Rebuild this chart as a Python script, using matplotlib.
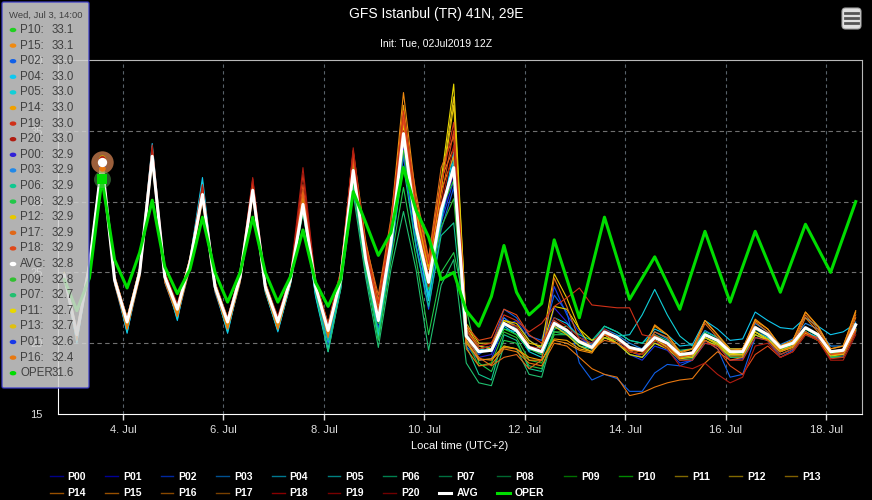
import datetime as dt
import numpy as np
import matplotlib
matplotlib.use('Agg')
import matplotlib.pyplot as plt
from matplotlib.lines import Line2D
from matplotlib.patches import FancyBboxPatch, Circle

plt.rcParams['font.family'] = ['Liberation Sans', 'DejaVu Sans']

# 6-hourly steps in local time (UTC+2), first step Wed Jul 2 20:00
t0 = dt.datetime(2019, 7, 2, 20)
times = [t0 + dt.timedelta(hours=6 * i) for i in range(64)]
hover_idx = 3  # Jul 3, 14:00

# ensemble members (deg C), one row per day (20, 02, 08, 14 h)
P00 = [24.6, 20.3, 25.3, 32.9, 24.3, 21.2, 24.8, 33.3, 24.5, 22.1, 25.5, 30.6, 23.8, 21.2, 24.5, 30.9,
       23.8, 21.2, 24.3, 29.9, 23.7, 20.5, 24.2, 31.8, 25.3, 21.0, 26.5, 34.0, 27.5, 23.5, 28.8, 32.0,
       20.0, 19.0, 19.2, 21.8, 21.2, 19.8, 19.2, 22.5, 21.5, 20.4, 19.8, 20.6, 20.2, 19.5, 19.0, 20.0,
       19.8, 19.0, 19.1, 20.4, 20.0, 19.1, 19.2, 21.0, 20.4, 19.4, 19.8, 21.0, 20.5, 19.2, 19.3, 21.1]
P01 = [24.9, 20.4, 25.4, 32.6, 24.3, 21.1, 24.8, 32.9, 24.4, 22.0, 25.5, 30.2, 23.8, 21.1, 24.5, 30.5,
       23.8, 21.0, 24.3, 29.5, 23.8, 20.4, 24.1, 31.6, 25.0, 20.8, 26.3, 33.5, 27.0, 23.0, 28.5, 31.5,
       19.8, 18.8, 18.9, 21.2, 21.6, 20.2, 19.6, 24.0, 22.0, 20.8, 19.5, 20.4, 20.0, 19.2, 18.8, 19.8,
       19.5, 18.6, 18.8, 20.0, 19.8, 18.8, 18.9, 20.6, 20.2, 19.2, 19.6, 20.8, 20.3, 19.0, 19.1, 20.8]
P02 = [24.7, 20.2, 25.6, 33.0, 24.4, 21.0, 25.0, 33.5, 24.6, 21.9, 25.8, 30.8, 23.9, 21.0, 24.8, 31.0,
       23.9, 21.0, 24.4, 30.0, 23.6, 20.2, 24.0, 31.2, 24.8, 20.6, 26.0, 33.2, 26.8, 22.4, 28.0, 31.0,
       20.2, 19.2, 19.8, 22.4, 21.8, 20.5, 20.2, 23.4, 22.2, 18.6, 17.4, 17.8, 17.5, 16.6, 16.6, 17.9,
       18.5, 18.4, 18.8, 20.2, 19.6, 17.6, 17.8, 20.4, 20.2, 19.0, 19.5, 20.8, 20.4, 19.1, 19.3, 21.0]
P03 = [24.8, 20.1, 25.2, 32.9, 24.2, 20.8, 24.7, 33.4, 24.3, 21.8, 25.3, 30.8, 23.6, 20.9, 24.3, 30.8,
       23.7, 20.9, 24.2, 29.6, 23.5, 20.0, 23.8, 32.3, 25.6, 20.4, 26.8, 34.5, 27.8, 23.2, 29.0, 32.8,
       20.4, 19.6, 19.8, 21.8, 21.0, 19.6, 19.2, 21.6, 20.8, 20.2, 19.9, 21.0, 20.6, 20.0, 19.6, 20.8,
       20.3, 19.4, 19.6, 20.9, 20.4, 19.6, 19.6, 21.4, 20.8, 19.9, 20.3, 21.4, 21.0, 19.8, 19.8, 21.5]
P04 = [24.9, 20.0, 25.6, 33.0, 24.6, 20.7, 25.1, 34.1, 24.8, 21.6, 25.9, 31.7, 23.9, 20.7, 24.6, 31.3,
       23.7, 20.8, 24.2, 29.7, 23.3, 19.4, 23.9, 32.5, 25.4, 20.3, 26.9, 35.2, 28.0, 23.0, 28.9, 33.5,
       20.8, 19.8, 19.6, 21.2, 20.6, 19.5, 19.8, 21.8, 21.4, 20.4, 20.0, 21.2, 20.8, 20.2, 20.0, 21.0,
       20.6, 19.8, 19.9, 21.6, 21.0, 20.2, 20.3, 22.2, 21.6, 21.1, 21.0, 21.8, 21.2, 20.6, 20.8, 21.4]
P05 = [24.7, 20.1, 25.5, 33.0, 24.5, 20.8, 25.0, 33.9, 24.7, 21.7, 25.8, 31.4, 23.8, 20.8, 24.5, 31.2,
       23.6, 20.9, 24.1, 29.5, 23.4, 19.6, 24.0, 32.0, 25.2, 20.5, 26.6, 34.6, 27.6, 23.4, 28.6, 33.0,
       20.6, 19.6, 19.4, 21.0, 20.8, 19.4, 19.0, 21.2, 20.7, 19.8, 19.6, 20.6, 20.5, 20.6, 22.0, 23.8,
       22.0, 20.5, 19.8, 20.4, 20.0, 19.2, 19.2, 20.8, 20.4, 19.6, 19.8, 20.8, 20.4, 19.3, 19.4, 20.9]
P06 = [24.9, 20.7, 25.8, 32.9, 24.8, 21.6, 25.3, 33.0, 24.9, 22.5, 25.9, 30.3, 24.2, 21.4, 24.9, 30.7,
       24.2, 21.3, 24.6, 29.3, 24.0, 20.2, 24.4, 31.2, 25.4, 20.8, 26.5, 32.5, 26.8, 22.6, 27.6, 28.5,
       19.8, 17.8, 17.4, 20.6, 20.2, 18.2, 18.0, 21.0, 21.2, 20.6, 20.2, 21.2, 20.8, 20.2, 20.0, 20.6,
       20.2, 19.5, 19.6, 20.8, 20.4, 19.6, 19.6, 21.2, 20.6, 19.8, 20.1, 21.0, 20.6, 19.4, 19.4, 21.0]
P07 = [24.8, 20.6, 25.6, 32.7, 24.6, 21.4, 24.9, 32.8, 24.7, 22.3, 25.6, 30.2, 24.0, 21.2, 24.6, 30.5,
       23.9, 21.2, 24.3, 29.2, 23.6, 19.4, 23.8, 30.6, 24.6, 19.7, 25.2, 29.3, 25.2, 19.5, 24.1, 25.9,
       18.6, 17.2, 17.0, 19.8, 19.6, 17.8, 17.6, 20.8, 20.6, 19.8, 19.4, 20.4, 20.0, 19.2, 19.0, 20.0,
       19.6, 18.8, 18.9, 20.2, 19.8, 19.0, 19.0, 20.6, 20.2, 19.2, 19.6, 20.6, 20.2, 19.0, 19.0, 20.8]
P08 = [24.8, 20.8, 25.5, 32.9, 24.5, 21.7, 25.0, 33.1, 24.6, 22.6, 25.6, 30.4, 24.0, 21.7, 24.7, 30.7,
       24.0, 21.7, 24.4, 29.6, 23.9, 20.6, 24.2, 31.4, 25.2, 20.2, 25.8, 31.0, 26.0, 20.6, 25.0, 26.4,
       22.4, 18.6, 18.0, 20.2, 20.0, 18.4, 18.2, 20.6, 20.6, 20.0, 19.6, 20.4, 20.2, 19.6, 19.4, 20.2,
       19.8, 19.0, 19.0, 20.4, 19.9, 19.2, 19.2, 20.8, 20.2, 19.4, 19.8, 20.8, 20.2, 19.1, 19.0, 21.0]
P09 = [24.9, 20.6, 25.7, 32.8, 24.6, 21.5, 25.2, 33.0, 24.8, 22.4, 25.9, 30.3, 24.1, 21.5, 24.9, 30.6,
       24.1, 21.5, 24.7, 29.6, 24.2, 21.0, 24.6, 32.0, 26.0, 21.4, 27.2, 33.6, 27.8, 23.8, 28.2, 30.2,
       20.2, 18.4, 18.6, 20.8, 20.4, 18.8, 18.6, 20.8, 20.8, 20.0, 19.7, 20.8, 20.4, 19.7, 19.5, 20.6,
       20.0, 19.2, 19.3, 20.7, 20.2, 19.4, 19.4, 21.0, 20.6, 19.7, 20.0, 21.0, 20.6, 19.4, 19.5, 21.2]
P10 = [24.9, 20.7, 25.6, 33.1, 24.6, 21.6, 25.1, 33.5, 24.8, 22.5, 25.8, 30.8, 24.1, 21.6, 24.8, 31.1,
       24.1, 21.6, 24.6, 30.1, 24.1, 21.0, 24.6, 32.4, 26.1, 21.8, 27.4, 34.5, 28.4, 24.5, 29.5, 31.5,
       20.6, 19.4, 19.5, 21.0, 20.6, 19.6, 19.2, 21.4, 21.0, 20.0, 19.6, 20.8, 20.3, 19.6, 19.4, 20.4,
       20.0, 19.1, 19.2, 20.6, 20.1, 19.3, 19.3, 21.0, 20.5, 19.6, 19.9, 21.0, 20.5, 19.3, 19.4, 21.2]
P11 = [25.0, 20.9, 25.8, 32.7, 24.8, 21.8, 25.3, 33.0, 25.0, 22.6, 26.0, 30.3, 24.3, 21.7, 25.0, 30.6,
       24.3, 21.7, 24.8, 29.5, 24.4, 21.3, 24.9, 32.0, 26.6, 22.6, 28.0, 35.2, 29.4, 25.6, 31.5, 38.3,
       21.2, 19.8, 19.6, 21.6, 21.4, 20.2, 19.6, 22.6, 22.4, 21.0, 20.2, 20.6, 20.0, 19.4, 19.2, 20.2,
       19.8, 19.0, 19.2, 20.4, 20.0, 19.3, 19.2, 20.8, 20.3, 19.5, 19.8, 20.8, 20.2, 19.2, 19.3, 21.0]
P12 = [24.8, 20.9, 25.5, 32.9, 24.6, 21.8, 25.0, 33.2, 24.7, 22.7, 25.7, 30.5, 24.0, 21.8, 24.7, 30.8,
       24.0, 21.8, 24.5, 29.8, 24.1, 21.2, 24.6, 32.2, 26.2, 22.2, 27.6, 35.6, 29.0, 25.2, 30.8, 36.8,
       21.0, 19.6, 19.8, 21.6, 21.2, 20.0, 19.8, 24.9, 23.2, 21.0, 19.6, 20.4, 20.0, 19.2, 19.0, 20.0,
       19.6, 18.9, 19.0, 20.2, 19.8, 19.1, 19.1, 20.6, 20.2, 19.4, 19.7, 20.7, 20.2, 19.1, 19.2, 20.9]
P13 = [25.0, 20.6, 25.7, 32.7, 24.7, 21.5, 25.2, 32.9, 24.9, 22.4, 25.9, 30.2, 24.2, 21.5, 24.9, 30.5,
       24.2, 21.5, 24.7, 29.5, 24.2, 21.2, 24.8, 31.8, 26.4, 22.8, 27.8, 34.2, 29.2, 25.4, 31.0, 37.4,
       21.4, 20.0, 20.0, 21.4, 21.0, 19.8, 19.4, 21.2, 20.6, 19.8, 19.4, 20.4, 20.0, 19.4, 19.2, 20.2,
       19.7, 19.0, 19.1, 20.4, 19.9, 19.2, 19.2, 20.8, 20.2, 19.4, 19.8, 20.8, 20.2, 19.2, 19.2, 21.0]
P14 = [24.8, 20.4, 25.5, 33.0, 24.6, 21.2, 25.0, 33.4, 24.7, 22.1, 25.7, 30.7, 24.0, 21.2, 24.7, 31.0,
       24.0, 21.2, 24.5, 30.4, 24.2, 20.8, 24.8, 33.2, 26.8, 22.6, 28.2, 36.8, 29.6, 25.2, 30.8, 33.2,
       20.2, 18.8, 18.9, 19.8, 19.6, 19.0, 18.8, 20.3, 20.2, 19.6, 19.4, 20.8, 20.4, 19.6, 19.4, 21.2,
       20.6, 19.4, 19.6, 21.6, 20.6, 19.6, 19.6, 21.6, 21.0, 19.8, 20.2, 22.2, 21.2, 19.6, 19.8, 22.2]
P15 = [24.9, 20.2, 25.6, 33.1, 24.6, 21.0, 25.1, 33.7, 24.8, 21.9, 25.8, 31.0, 24.0, 21.0, 24.8, 31.3,
       24.0, 21.0, 24.6, 30.8, 24.3, 20.6, 25.0, 33.6, 27.2, 23.0, 28.6, 37.7, 30.2, 25.8, 31.6, 33.8,
       20.0, 18.9, 18.8, 19.7, 19.6, 18.8, 18.8, 20.2, 20.0, 19.5, 19.3, 20.6, 20.4, 19.5, 19.4, 21.3,
       20.6, 19.3, 19.6, 21.6, 20.6, 19.5, 19.6, 21.7, 21.0, 19.8, 20.2, 22.2, 21.2, 19.6, 19.8, 22.3]
P16 = [24.6, 20.3, 25.3, 32.4, 24.2, 21.0, 24.6, 32.7, 24.3, 21.9, 25.3, 30.0, 23.7, 21.0, 24.3, 30.3,
       23.7, 21.0, 24.2, 30.0, 23.9, 20.4, 24.4, 32.8, 26.4, 22.0, 27.6, 36.2, 28.8, 24.2, 29.8, 32.0,
       19.6, 18.4, 18.5, 19.6, 19.4, 18.6, 18.4, 20.0, 19.8, 19.0, 18.2, 17.8, 17.6, 16.3, 16.5, 16.9,
       17.2, 17.4, 17.5, 18.6, 19.4, 18.8, 19.0, 21.2, 20.6, 19.4, 19.8, 21.8, 20.8, 19.2, 19.4, 21.8]
P17 = [24.8, 20.9, 25.7, 32.9, 24.7, 21.8, 25.3, 33.2, 24.9, 22.7, 26.0, 30.5, 24.3, 21.8, 25.0, 30.8,
       24.3, 21.8, 24.8, 30.6, 24.4, 21.4, 25.1, 33.0, 27.0, 23.4, 28.8, 36.0, 30.6, 26.0, 32.4, 34.6,
       20.4, 19.0, 18.4, 19.0, 19.2, 18.2, 18.8, 24.6, 22.6, 20.2, 19.6, 20.2, 20.0, 19.4, 19.2, 20.8,
       20.4, 19.2, 19.4, 21.4, 20.4, 19.4, 19.5, 21.5, 20.8, 19.6, 20.0, 22.0, 21.0, 19.4, 19.6, 22.0]
P18 = [24.8, 20.8, 25.6, 32.9, 24.6, 21.7, 25.1, 33.6, 24.8, 22.6, 25.8, 30.9, 24.1, 21.7, 24.8, 31.3,
       24.1, 21.7, 24.6, 31.2, 24.3, 21.2, 24.9, 33.2, 26.6, 22.4, 28.0, 35.8, 29.0, 24.8, 30.2, 35.0,
       21.2, 20.2, 20.4, 22.4, 22.0, 20.6, 20.0, 21.6, 21.0, 20.2, 19.8, 20.6, 20.2, 19.6, 19.4, 20.6,
       20.0, 19.0, 19.2, 20.2, 19.6, 18.4, 17.8, 19.2, 19.8, 19.0, 19.4, 20.6, 20.4, 19.2, 19.3, 21.0]
P19 = [24.7, 20.7, 25.5, 33.0, 24.6, 21.6, 25.1, 33.8, 24.8, 22.5, 25.8, 31.1, 24.0, 21.6, 24.8, 31.6,
       24.0, 21.6, 24.6, 31.9, 24.3, 21.2, 25.0, 33.5, 26.8, 22.8, 28.4, 36.4, 29.8, 25.6, 31.2, 35.6,
       21.0, 19.8, 20.0, 22.0, 21.6, 20.8, 21.4, 22.6, 23.2, 23.9, 22.7, 22.6, 22.5, 22.5, 20.6, 20.4,
       19.8, 18.8, 18.8, 20.0, 19.8, 18.8, 18.8, 20.4, 20.2, 19.2, 19.6, 20.8, 20.2, 18.9, 19.0, 20.8]
P20 = [24.8, 21.0, 25.6, 33.0, 24.8, 21.8, 25.2, 34.0, 25.0, 22.8, 25.9, 31.2, 24.2, 21.8, 24.9, 31.7,
       24.2, 21.9, 24.8, 32.4, 24.4, 21.3, 25.0, 33.8, 26.4, 22.0, 27.8, 35.0, 28.6, 24.0, 29.6, 34.0,
       20.8, 19.6, 19.8, 21.4, 21.2, 19.8, 19.6, 21.8, 21.2, 20.4, 20.0, 21.0, 20.4, 19.4, 19.2, 20.2,
       19.6, 18.4, 18.2, 18.6, 17.8, 17.2, 17.6, 19.8, 20.0, 19.0, 19.4, 20.6, 20.2, 18.8, 18.8, 20.6]

AVG = [24.8, 20.6, 25.5, 32.8, 24.5, 21.5, 25.0, 33.2, 24.7, 22.4, 25.7, 30.5, 24.0, 21.5, 24.7, 30.8,
       24.0, 21.5, 24.5, 29.8, 24.0, 20.9, 24.5, 32.2, 25.9, 21.6, 27.1, 34.8, 28.2, 24.3, 29.4, 32.4,
       20.5, 19.4, 19.5, 21.4, 20.9, 19.7, 19.4, 21.4, 20.9, 20.1, 19.7, 20.8, 20.4, 19.7, 19.5, 20.4,
       20.0, 19.2, 19.3, 20.6, 20.2, 19.4, 19.4, 21.1, 20.6, 19.7, 20.0, 21.1, 20.6, 19.4, 19.5, 21.3]

# operational run: 12-hourly after Jul 12 14:00 (None = no value)
OPER = [24.5, 22.3, 24.6, 31.6, 25.9, 23.9, 26.4, 30.1, 25.4, 23.5, 25.2, 28.9, 25.0, 22.9, 25.0, 28.9,
        25.0, 22.9, 24.7, 28.0, 24.3, 22.6, 24.5, 30.7, 28.5, 26.2, 27.8, 32.4, 29.4, 27.5, 24.5, 25.0,
        22.3, 21.2, 23.3, 26.9, 23.6, 22.0, 22.8, 27.3, None, 21.8, None, 28.9, None, 23.1, None, 26.1,
        None, 22.4, None, 27.9, None, 22.9, None, 27.9, None, 23.6, None, 28.4, None, 25.0, None, 30.0]

member_names = ['P%02d' % k for k in range(21)]
members = dict(zip(member_names, [P00, P01, P02, P03, P04, P05, P06, P07, P08, P09, P10,
                                  P11, P12, P13, P14, P15, P16, P17, P18, P19, P20]))

# line colours in the plot, and the dimmer ones used in the legend
line_colors = ['#3020d8', '#1838e8', '#1060e8', '#2088e8', '#10c8f0', '#10d0d8', '#10c890',
               '#20c070', '#20c848', '#30c030', '#20d020', '#e8d800', '#e8c800', '#e0c010',
               '#f0a000', '#f08a10', '#e87810', '#e06818', '#e04818', '#d03018', '#b01c10']
legend_colors = ['#000088', '#000098', '#0028a0', '#005090', '#007890', '#008080', '#008050',
                 '#007040', '#006830', '#007000', '#008800', '#806800', '#806800', '#806000',
                 '#985000', '#985000', '#884800', '#784000', '#880000', '#780000', '#700000']
oper_color = '#00dd00'

W, H = 872, 500
fig = plt.figure(figsize=(W / 100, H / 100), dpi=100, facecolor='black')
ax = fig.add_axes([58 / W, 86 / H, 804 / W, 354 / H], facecolor='black')

for name, col in zip(member_names, line_colors):
    ax.plot(times, members[name], color=col, lw=0.8, zorder=2)
ax.plot(times, AVG, color='white', lw=2.2, zorder=4)
oper_t = [t for t, v in zip(times, OPER) if v is not None]
oper_v = [v for v in OPER if v is not None]
ax.plot(oper_t, oper_v, color=oper_color, lw=2.2, zorder=5)

# hover markers at Jul 3 14:00
th = times[hover_idx]
ax.scatter([th], [AVG[hover_idx]], s=260, color='#d08050', alpha=0.75, zorder=6, lw=0)
for name, col in zip(member_names, line_colors):
    ax.scatter([th], [members[name][hover_idx]], s=22, color=col, zorder=7, lw=0)
ax.scatter([th], [AVG[hover_idx]], s=45, color='white', zorder=8, lw=0)
ax.scatter([th], [OPER[hover_idx]], s=150, color='#60c060', alpha=0.45, zorder=6, marker='o', lw=0)
ax.scatter([th], [OPER[hover_idx]], s=50, color=oper_color, marker='s', zorder=8, lw=0)

ax.set_xlim(dt.datetime(2019, 7, 2, 17), dt.datetime(2019, 7, 18, 17))
ax.set_ylim(15, 40)

xt = [dt.datetime(2019, 7, d) for d in range(4, 19, 2)]
ax.set_xticks(xt)
ax.set_xticklabels(['%d. Jul' % d.day for d in xt])
ax.set_yticks([15, 20, 25, 30, 35, 40])
ax.tick_params(axis='x', colors='#e0e0e0', labelsize=8, length=4, width=1, pad=4)
ax.tick_params(axis='y', colors='#e0e0e0', labelsize=8, length=0, pad=11)
ax.set_xlabel('Local time (UTC+2)', color='white', fontsize=8, labelpad=4)

for y in [20, 25, 30, 35]:
    ax.axhline(y, color='#707070', lw=0.8, dashes=(4, 3), zorder=1)
for x in xt:
    ax.axvline(x, color='#58626a', lw=0.8, dashes=(3, 3), zorder=1)
for side in ['left', 'bottom']:
    ax.spines[side].set_color('white')
for side in ['top', 'right']:
    ax.spines[side].set_color('#b8b8b8')

# titles
fig.text(0.5, 1 - 14 / H, 'GFS Istanbul (TR) 41N, 29E', color='white', fontsize=10,
         ha='center', va='center')
fig.text(0.5, 1 - 43 / H, 'Init: Tue, 02Jul2019 12Z', color='white', fontsize=7.5,
         ha='center', va='center')

# menu icon
fig.add_artist(FancyBboxPatch((842 / W, 1 - 29 / H), 19 / W, 21 / H,
                              boxstyle='round,pad=0,rounding_size=0.004', mutation_aspect=W / H,
                              transform=fig.transFigure, facecolor='#e0e0e0', edgecolor='#a0a0a0',
                              lw=0.8, zorder=10))
for py in [13, 18, 23]:
    fig.add_artist(Line2D([845 / W, 858 / W], [1 - py / H, 1 - py / H], transform=fig.transFigure,
                          color='#555555', lw=2, zorder=11))

# tooltip box
fig.add_artist(FancyBboxPatch((2 / W, 1 - 388 / H), 87 / W, 386 / H,
                              boxstyle='round,pad=0,rounding_size=0.002', mutation_aspect=W / H,
                              transform=fig.transFigure, facecolor='#d2d2d2', alpha=0.85,
                              edgecolor='#3838c8', lw=1, zorder=10))
fig.text(9 / W, 1 - 15 / H, 'Wed, Jul 3, 14:00', color='#404040', fontsize=6.8,
         ha='left', va='center', zorder=11)
entries = [('AVG', AVG[hover_idx], 'white')]
entries += [(n, members[n][hover_idx], c) for n, c in zip(member_names, line_colors)]
entries += [('OPER', OPER[hover_idx], oper_color)]
entries = sorted(entries, key=lambda e: -e[1])
for k, (name, val, col) in enumerate(entries):
    py = 1 - (30 + 15.6 * k) / H
    fig.add_artist(Circle((13 / W, py), 2.6 / W, transform=fig.transFigure, color=col, zorder=11))
    fig.text(20 / W, py, name + ':', color='#404040', fontsize=8.3, ha='left', va='center', zorder=11)
    fig.text(52 / W, py, '%.1f' % val, color='#404040', fontsize=8.3, ha='left', va='center', zorder=11)

# legend, row-major over 14 columns
handles = [Line2D([], [], color=c, lw=1) for c in legend_colors]
handles += [Line2D([], [], color='white', lw=2.2), Line2D([], [], color=oper_color, lw=2.2)]
labels = member_names + ['AVG', 'OPER']
row1 = list(range(14))
row2 = list(range(14, 23))
order = []
for j in range(14):
    order.append(row1[j])
    if j < len(row2):
        order.append(row2[j])
leg = fig.legend([handles[i] for i in order], [labels[i] for i in order], ncol=14,
                 loc='upper left', bbox_to_anchor=(50 / W, 1 - 472 / H), frameon=False,
                 prop=dict(weight='bold', size=7.5), labelcolor='white', handlelength=1.2,
                 handletextpad=0.5, columnspacing=1.85, labelspacing=0.6, borderpad=0,
                 borderaxespad=0)

fig.savefig('out.png', dpi=100, facecolor='black')
